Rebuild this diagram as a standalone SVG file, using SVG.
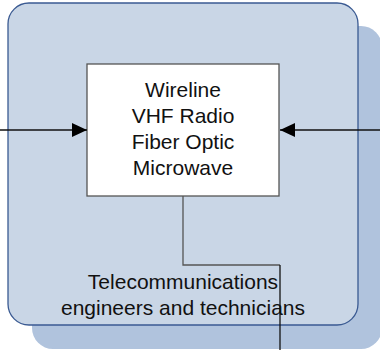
<svg xmlns="http://www.w3.org/2000/svg" width="380" height="350" viewBox="0 0 380 350">
<defs>
<style>
.lbl{font-family:"Liberation Sans",Arial,sans-serif;font-size:21px;fill:#111;text-anchor:middle}
.conn{fill:none;stroke:#111;stroke-width:1.3}
.conn.gray{stroke:#555}
</style>
<marker id="ah" markerWidth="15" markerHeight="14" refX="15" refY="7" orient="auto" markerUnits="userSpaceOnUse">
<path d="M0,0 L15,7 L0,14 Z" fill="#000"/>
</marker>
</defs>
<rect width="380" height="350" fill="#ffffff"/>
<g id="container">
<rect x="32" y="26" width="350" height="323" rx="21" fill="#b0c3dd"/>
<rect x="8" y="3" width="350" height="322" rx="21" fill="#c9d6e6" stroke="#3a5a92" stroke-width="1.3"/>
<text class="lbl" x="183" y="289">Telecommunications</text>
<text class="lbl" x="183" y="315">engineers and technicians</text>
</g>
<g id="media">
<rect x="87" y="64" width="192" height="132" fill="#ffffff" stroke="#555" stroke-width="1.3"/>
<text class="lbl" x="183" y="97">Wireline</text>
<text class="lbl" x="183" y="123">VHF Radio</text>
<text class="lbl" x="183" y="149">Fiber Optic</text>
<text class="lbl" x="183" y="175">Microwave</text>
</g>
<g id="connectors">
<line class="conn" x1="0" y1="130" x2="87" y2="130" marker-end="url(#ah)"/>
<line class="conn" x1="380" y1="130" x2="280" y2="130" marker-end="url(#ah)"/>
<polyline class="conn gray" points="183,196 183,265 280,265"/>
<line class="conn" x1="280" y1="265" x2="280" y2="350"/>
</g>
</svg>
